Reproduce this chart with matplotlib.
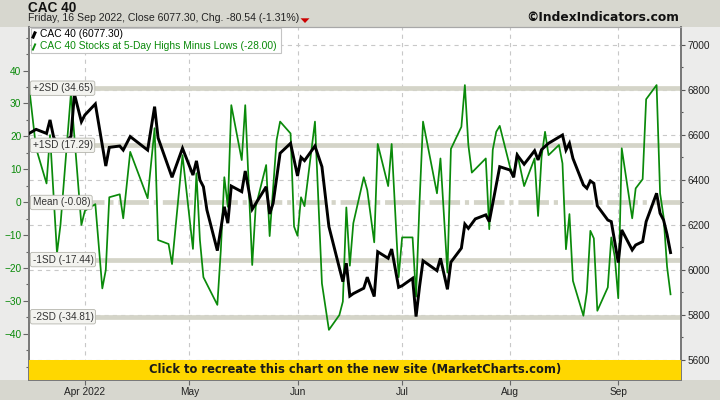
import matplotlib
matplotlib.use('Agg')
import matplotlib.pyplot as plt
import matplotlib.dates as mdates
import matplotlib.transforms as mtransforms
from matplotlib.patches import Rectangle, Polygon
from matplotlib.lines import Line2D
from matplotlib.ticker import FixedLocator, MultipleLocator
import pandas as pd

# ---------------- data ----------------
black_dates = ['2022-03-16', '2022-03-18', '2022-03-21', '2022-03-22', '2022-03-23', '2022-03-24',
               '2022-03-25', '2022-03-28', '2022-03-29', '2022-03-31', '2022-04-01', '2022-04-04',
               '2022-04-07', '2022-04-08', '2022-04-11', '2022-04-12', '2022-04-14', '2022-04-19',
               '2022-04-21', '2022-04-22', '2022-04-26', '2022-04-29', '2022-05-02', '2022-05-03',
               '2022-05-04', '2022-05-05', '2022-05-06', '2022-05-09', '2022-05-11', '2022-05-12',
               '2022-05-13', '2022-05-16', '2022-05-17', '2022-05-19', '2022-05-23', '2022-05-24',
               '2022-05-25', '2022-05-27', '2022-05-30', '2022-06-01', '2022-06-02', '2022-06-03',
               '2022-06-06', '2022-06-08', '2022-06-10', '2022-06-14', '2022-06-15', '2022-06-16',
               '2022-06-17', '2022-06-20', '2022-06-21', '2022-06-22', '2022-06-23', '2022-06-24',
               '2022-06-27', '2022-06-28', '2022-06-30', '2022-07-01', '2022-07-04', '2022-07-05',
               '2022-07-06', '2022-07-07', '2022-07-11', '2022-07-12', '2022-07-14', '2022-07-15',
               '2022-07-18', '2022-07-19', '2022-07-20', '2022-07-22', '2022-07-25', '2022-07-26',
               '2022-07-29', '2022-08-01', '2022-08-02', '2022-08-03', '2022-08-05', '2022-08-08',
               '2022-08-09', '2022-08-10', '2022-08-12', '2022-08-16', '2022-08-17', '2022-08-18',
               '2022-08-19', '2022-08-22', '2022-08-23', '2022-08-24', '2022-08-25', '2022-08-26',
               '2022-08-29', '2022-08-30', '2022-08-31', '2022-09-01', '2022-09-02', '2022-09-05',
               '2022-09-06', '2022-09-08', '2022-09-09', '2022-09-12', '2022-09-13', '2022-09-14',
               '2022-09-15', '2022-09-16']
black_vals = [6607, 6625, 6607, 6667, 6593, 6560,
              6555, 6593, 6782, 6659, 6689, 6738,
              6462, 6545, 6551, 6533, 6593, 6533,
              6726, 6587, 6412, 6541, 6422, 6485,
              6400, 6370, 6267, 6086, 6281, 6208,
              6373, 6348, 6440, 6270, 6370, 6249,
              6297, 6519, 6563, 6418, 6501, 6486,
              6551, 6459, 6193, 5948, 6030, 5884,
              5895, 5919, 5968, 5925, 5882, 6081,
              6052, 6093, 5923, 5930, 5963, 5793,
              5926, 6041, 5997, 6052, 5914, 6035,
              6097, 6204, 6185, 6227, 6245, 6215,
              6459, 6444, 6412, 6511, 6470, 6530,
              6489, 6535, 6563, 6600, 6533, 6563,
              6496, 6378, 6363, 6396, 6385, 6285,
              6222, 6215, 6125, 6033, 6178, 6089,
              6111, 6126, 6215, 6341, 6252, 6222,
              6158, 6077.30]

green_dates = ['2022-03-16', '2022-03-18', '2022-03-21', '2022-03-22', '2022-03-24', '2022-03-25',
               '2022-03-28', '2022-03-31', '2022-04-01', '2022-04-04', '2022-04-06', '2022-04-07',
               '2022-04-08', '2022-04-11', '2022-04-12', '2022-04-14', '2022-04-19', '2022-04-21',
               '2022-04-22', '2022-04-25', '2022-04-26', '2022-04-29', '2022-05-02', '2022-05-03',
               '2022-05-04', '2022-05-05', '2022-05-09', '2022-05-10', '2022-05-11', '2022-05-12',
               '2022-05-13', '2022-05-16', '2022-05-17', '2022-05-19', '2022-05-20', '2022-05-23',
               '2022-05-24', '2022-05-26', '2022-05-27', '2022-05-30', '2022-05-31', '2022-06-01',
               '2022-06-02', '2022-06-03', '2022-06-06', '2022-06-08', '2022-06-10', '2022-06-13',
               '2022-06-14', '2022-06-15', '2022-06-16', '2022-06-17', '2022-06-20', '2022-06-21',
               '2022-06-23', '2022-06-24', '2022-06-27', '2022-06-28', '2022-06-30', '2022-07-01',
               '2022-07-04', '2022-07-05', '2022-07-06', '2022-07-07', '2022-07-11', '2022-07-12',
               '2022-07-14', '2022-07-15', '2022-07-18', '2022-07-19', '2022-07-20', '2022-07-21',
               '2022-07-25', '2022-07-26', '2022-07-27', '2022-07-28', '2022-07-29', '2022-08-01',
               '2022-08-02', '2022-08-03', '2022-08-05', '2022-08-08', '2022-08-09', '2022-08-10',
               '2022-08-11', '2022-08-12', '2022-08-15', '2022-08-16', '2022-08-17', '2022-08-18',
               '2022-08-19', '2022-08-22', '2022-08-23', '2022-08-24', '2022-08-25', '2022-08-26',
               '2022-08-29', '2022-08-30', '2022-08-31', '2022-09-01', '2022-09-02', '2022-09-05',
               '2022-09-06', '2022-09-08', '2022-09-09', '2022-09-12', '2022-09-13', '2022-09-14',
               '2022-09-15', '2022-09-16']
green_vals = [35.0, 16.4, 5.7, 20.4, -15.5, -6.9,
              33.1, -6.9, -2.6, -0.6, -26.2, -20.6,
              1.5, 2.4, -4.9, 15.3, 1.2, 22.5,
              -11.5, -12.7, -18.8, 14.3, -14.2, 8.8,
              -11.5, -22.8, -31.2, -14.5, 7.6, -1.4,
              29.5, 12.8, 29.5, -19.1, -1.4, 11.3,
              -10.3, 18.9, 24.5, 20.9, -7.4, -10.2,
              1.5, -1.2, 24.5, -24.7, -38.8, -34.3,
              -30.2, -1.6, -19.3, -6.4, 7.6, 3.7,
              -12.2, 17.7, 4.9, 17.7, -22.8, -10.7,
              -10.7, -28.7, 0.0, 24.5, 2.7, 13.3,
              -21.4, 16.2, 22.9, 35.6, 17.4, 9.0,
              13.3, -8.2, 15.9, 21.4, 23.2, 10.5,
              7.8, 14.9, 4.9, 13.3, -4.2, 13.8,
              21.4, 14.3, 17.4, 11.8, -14.3, -3.6,
              -23.9, -34.5, -27.2, -8.7, -11.0, -33.0,
              -25.9, -10.7, -16.6, -29.2, 16.4, -4.9,
              4.2, 7.0, 31.3, 35.6, 2.7, -4.4,
              -19.6, -28.0]

band_vals = [34.65, 17.29, -0.08, -17.44, -34.81]
band_labels = ['+2SD (34.65)', '+1SD (17.29)', 'Mean (-0.08)', '-1SD (-17.44)', '-2SD (-34.81)']

month_ticks = ['2022-04-01', '2022-05-01', '2022-06-01', '2022-07-01', '2022-08-01', '2022-09-01']
month_labels = ['Apr 2022', 'May', 'Jun', 'Jul', 'Aug', 'Sep']
left_ticks = [-40, -30, -20, -10, 0, 10, 20, 30, 40]
right_ticks = [5600, 5800, 6000, 6200, 6400, 6600, 6800, 7000]

title = 'CAC 40'
subtitle = 'Friday, 16 Sep 2022, Close 6077.30, Chg. -80.54 (-1.31%)'
site = '\u00a9IndexIndicators.com'
legend_black = 'CAC 40 (6077.30)'
legend_green = 'CAC 40 Stocks at 5-Day Highs Minus Lows (-28.00)'
banner_text = 'Click to recreate this chart on the new site (MarketCharts.com)'

# ---------------- style ----------------
plt.rcParams['font.family'] = ['Liberation Sans', 'DejaVu Sans']
plt.rcParams['lines.scale_dashes'] = False

W, H = 720, 400
L, R, T, B = 29, 681, 27, 380
GREEN = '#0a8a0a'
BAND = '#d4d4c8'
GRID = '#c8c8c8'


def fx(px):
    return px / W


def fy(py):
    return 1 - py / H


def axx(px):
    return (px - L) / (R - L)


def axy(py):
    return (B - py) / (B - T)


fig = plt.figure(figsize=(7.2, 4.0), dpi=100)
fig.patch.set_facecolor('#d7d7cf')

# side panels
fig.add_artist(Rectangle((0, fy(B)), fx(L), fy(T) - fy(B), transform=fig.transFigure,
                         facecolor='#ebebea', edgecolor='none', zorder=-5))
fig.add_artist(Rectangle((fx(R), fy(B)), 1 - fx(R), fy(T) - fy(B), transform=fig.transFigure,
                         facecolor='#ececeb', edgecolor='none', zorder=-5))

ax = fig.add_axes([fx(L), fy(B), fx(R) - fx(L), fy(T) - fy(B)])
ax.set_facecolor('white')
ax2 = ax.twinx()

bd = pd.to_datetime(black_dates)
gd = pd.to_datetime(green_dates)
md = pd.to_datetime(month_ticks)

x0 = mdates.date2num(pd.Timestamp('2022-03-16')) - 0.03
x1 = mdates.date2num(pd.Timestamp('2022-09-19')) + 0.0
ax.set_xlim(x0, x1)
ax.set_ylim(-54.04, 53.25)
ax2.set_ylim(5511, 7080)

# grid
for d in md:
    ax.axvline(mdates.date2num(d), color=GRID, lw=0.8, ls=(0, (3, 3)), zorder=1)
tr_grid = mtransforms.blended_transform_factory(ax.transAxes, ax2.transData)
for v in right_ticks:
    ax.plot([0, 1], [v, v], transform=tr_grid, color=GRID, lw=0.8, ls=(0, (3, 3)), zorder=1)

# bands
for v, lab in zip(band_vals, band_labels):
    if lab.startswith('Mean'):
        ax.axhline(v, color=BAND, lw=3.4, ls=(0, (22, 3.5, 3, 3.5)), zorder=2)
    else:
        ax.axhline(v, color=BAND, lw=3.4, zorder=2)

# series
ax.plot(mdates.date2num(gd), green_vals, color=GREEN, lw=1.25, zorder=3)
ax2.plot(mdates.date2num(bd), black_vals, color='black', lw=2.1, zorder=3,
         solid_joinstyle='miter')

# band labels
tr_lab = mtransforms.blended_transform_factory(ax2.transAxes, ax.transData)
for v, lab in zip(band_vals, band_labels):
    ax2.text(axx(32.5), v, lab, transform=tr_lab, ha='left', va='center', fontsize=7.2,
             color='#333333', zorder=10,
             bbox=dict(boxstyle='round,pad=0.22,rounding_size=0.2', fc='#f3f3ef', ec='#b5b5ad', lw=0.6))

# legend
ax2.add_patch(Rectangle((axx(31), axy(53)), axx(281) - axx(31), axy(28) - axy(53),
                        transform=ax2.transAxes, facecolor='white', edgecolor='#c4c4c4',
                        lw=0.8, zorder=11))
ax2.add_line(Line2D([axx(32.5), axx(35.5)], [axy(38.5), axy(31.5)], transform=ax2.transAxes,
                    color='black', lw=2.2, zorder=12, solid_capstyle='butt'))
ax2.add_line(Line2D([axx(32.5), axx(35.5)], [axy(50.5), axy(43.5)], transform=ax2.transAxes,
                    color=GREEN, lw=1.4, zorder=12, solid_capstyle='butt'))
ax2.text(axx(40), axy(34.5), legend_black, transform=ax2.transAxes, ha='left', va='center',
         fontsize=7.4, color='black', zorder=12)
ax2.text(axx(40), axy(46.5), legend_green, transform=ax2.transAxes, ha='left', va='center',
         fontsize=7.4, color=GREEN, zorder=12)

# banner
ax2.add_patch(Rectangle((0, 0), 1, axy(360), transform=ax2.transAxes, facecolor='#ffd700',
                        edgecolor='none', zorder=20, clip_on=False))
ax2.text(0.5, axy(370), banner_text, transform=ax2.transAxes, ha='center', va='center',
         fontsize=8.3, fontweight='bold', color='#1a1a1a', zorder=21, family=['DejaVu Sans'])

# ticks / axes
ax.xaxis.set_major_locator(FixedLocator(mdates.date2num(md)))
ax.set_xticklabels(month_labels)
ax.tick_params(axis='x', direction='out', length=3.5, width=0.8, color='#666666', pad=1.5,
               labelsize=7.3, labelcolor='#222222')
ax.set_yticks(left_ticks)
ax.yaxis.set_minor_locator(MultipleLocator(5))
ax.tick_params(axis='y', which='major', direction='out', length=4.3, width=0.8, color='#666666',
               pad=1.2, labelsize=7.3, labelcolor=GREEN)
ax.tick_params(axis='y', which='minor', direction='out', length=2, width=0.8, color='#666666')

ax2.set_yticks(right_ticks)
ax2.yaxis.set_minor_locator(MultipleLocator(100))
ax2.tick_params(axis='y', which='major', direction='out', length=3, width=0.8, color='#555555',
                pad=1.5, labelsize=7.3, labelcolor='#222222')
ax2.tick_params(axis='y', which='minor', direction='out', length=1.2, width=0.8, color='#555555')

for a in (ax, ax2):
    for s in ('left', 'right', 'bottom'):
        a.spines[s].set_color('#7a7a7a')
        a.spines[s].set_linewidth(1.4)
    a.spines['top'].set_color('#a8a8a8')
    a.spines['top'].set_linewidth(0.8)

# header
fig.text(fx(28), fy(7.5), title, ha='left', va='center', fontsize=9.8, fontweight='bold',
         color='#111111')
fig.text(fx(28), fy(18), subtitle, ha='left', va='center', fontsize=7.6, color='#222222')
fig.add_artist(Polygon([[fx(300.5), fy(18.3)], [fx(309.5), fy(18.3)], [fx(305), fy(23)]],
                       closed=True, transform=fig.transFigure, facecolor='#cc0000',
                       edgecolor='none'))
fig.text(fx(679), fy(17.5), site, ha='right', va='center', fontsize=8.8, fontweight='bold',
         color='#111111', family=['DejaVu Sans'])

fig.savefig('out.png', dpi=100, facecolor=fig.get_facecolor())
